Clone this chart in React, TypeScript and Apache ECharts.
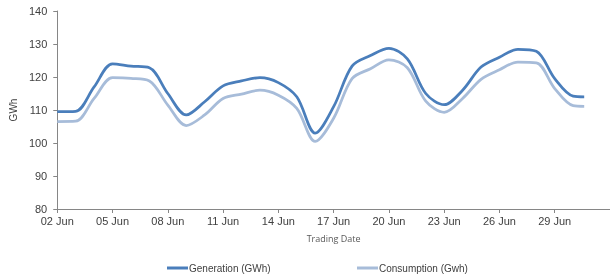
import React, { useEffect, useRef } from "react";
import * as echarts from "echarts";

// Day of month for each data point (June)
const dayOfMonth = [2, 3, 4, 5, 6, 7, 8, 9, 10, 11, 12, 13, 14, 15, 16, 17, 18, 19, 20, 21, 22, 23, 24, 25, 26, 27, 28, 29, 30, 30.6];
const generation = [109.5, 109.6, 117, 124, 123.3, 122.8, 115, 108.5, 112.5, 117.3, 118.8, 119.8, 118.3, 114, 103, 111, 123.3, 126.5, 128.7, 125.5, 115, 111.6, 116, 123, 126, 128.4, 127.8, 119.5, 114.2, 114];
const consumption = [106.5, 106.6, 113.5, 119.8, 119.6, 118.8, 111.5, 105.3, 108.5, 113.5, 114.8, 116, 114.5, 110.5, 100.5, 107.5, 119.5, 122.5, 125.2, 122.8, 112.7, 109.3, 113.5, 119.3, 122.2, 124.5, 124.3, 116.5, 111.3, 111.1];
const seriesNames = ["Generation (GWh)", "Consumption (Gwh)"];
const startDay = 2;

export default function App() {
  const ref = useRef<HTMLDivElement>(null);
  useEffect(() => {
    if (!ref.current) return;
    const chart = echarts.init(ref.current, undefined, { renderer: "svg" });
    const font = "'Liberation Sans', Arial, sans-serif";
    const axisColor = "#868686";
    const legendBase = {
      top: 263,
      padding: 0,
      itemWidth: 21,
      itemHeight: 3,
      itemGap: 0,
      icon: "rect",
      textStyle: { fontFamily: font, fontSize: 10, color: "#404040", padding: [0, 0, 0, -4] },
    };
    chart.setOption({
      animation: false,
      grid: { left: 48, top: 11, bottom: 70, right: -19 },
      xAxis: {
        type: "value",
        min: 0,
        max: 30,
        interval: 3,
        name: "Trading Date",
        nameLocation: "middle",
        nameGap: 25,
        nameTextStyle: { fontFamily: "'Open Sans', sans-serif", fontSize: 9, color: "#595959" },
        axisLine: { show: true, lineStyle: { color: axisColor, width: 1 } },
        axisTick: { show: true, length: 4, lineStyle: { color: axisColor } },
        splitLine: { show: false },
        axisLabel: {
          showMaxLabel: false,
          margin: 6,
          fontFamily: font,
          fontSize: 11,
          color: "#404040",
          formatter: (v: number) => {
            const d = Math.round(v + startDay);
            return (d < 10 ? "0" + d : String(d)) + " Jun";
          },
        },
      },
      yAxis: {
        type: "value",
        min: 80,
        max: 140,
        interval: 10,
        name: "GWh",
        nameLocation: "middle",
        nameGap: 33,
        nameTextStyle: { fontFamily: font, fontSize: 10, color: "#404040" },
        axisLine: { show: true, lineStyle: { color: axisColor, width: 1 } },
        axisTick: { show: true, length: 4, lineStyle: { color: axisColor } },
        splitLine: { show: false },
        axisLabel: { margin: 10, fontFamily: font, fontSize: 11, color: "#404040" },
      },
      legend: [
        { ...legendBase, data: [seriesNames[0]], left: 167 },
        { ...legendBase, data: [seriesNames[1]], left: 357 },
      ],
      series: [
        {
          name: seriesNames[0],
          type: "line",
          symbol: "none",
          smooth: 0.33,
          data: dayOfMonth.map((d, i) => [d - startDay, generation[i]]),
          lineStyle: { color: "#4a7ebb", width: 2.75 },
          itemStyle: { color: "#4a7ebb" },
          z: 3,
        },
        {
          name: seriesNames[1],
          type: "line",
          symbol: "none",
          smooth: 0.33,
          data: dayOfMonth.map((d, i) => [d - startDay, consumption[i]]),
          lineStyle: { color: "#a7bcd9", width: 2.75 },
          itemStyle: { color: "#a7bcd9" },
          z: 2,
        },
      ],
    });
    return () => chart.dispose();
  }, []);
  return <div ref={ref} style={{ position: "fixed", left: 0, top: 0, width: 610, height: 279 }} />;
}
